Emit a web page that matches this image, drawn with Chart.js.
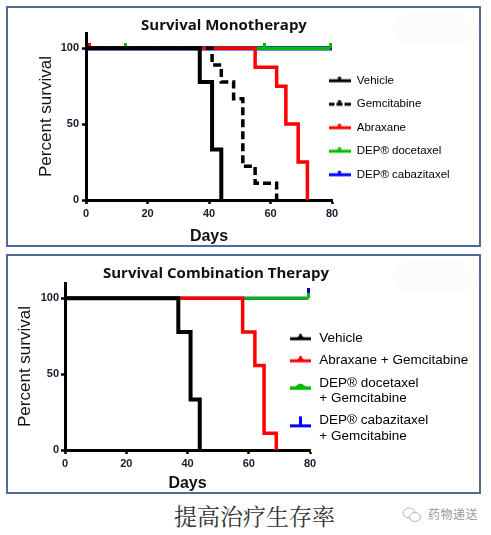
<!DOCTYPE html>
<html>
<head>
<meta charset="utf-8">
<title>Survival</title>
<script src="https://cdn.jsdelivr.net/npm/chart.js@4.4.1/dist/chart.umd.min.js"></script>
<style>
    html, body { margin: 0; padding: 0; background: #fff; }
    body { width: 491px; height: 535px; position: relative; overflow: hidden; }
    .panel { position: absolute; left: 6px; width: 471px; border: 2px solid #4f6a94; background: #fff; }
    #panel1 { top: 6px; height: 237px; }
    #panel2 { top: 254px; height: 236px; }
    .blur { position: absolute; right: 6px; top: 5px; width: 80px; height: 32px; border-radius: 16px; background: #fcfcfc; }
    .panel canvas { display: block; position: relative; }
    #caption { position: absolute; left: 0; top: 499px; width: 509px; text-align: center;
        font-family: "Noto Serif CJK SC", "Noto Sans CJK SC", serif; font-size: 23px; color: #333; }
    #mark { position: absolute; left: 402px; top: 505px; color: #9a9a9a;
        font-family: "Noto Sans CJK SC", sans-serif; font-size: 12px; }
    #mark svg { position: absolute; left: 0; top: 1px; }
    #mark span { position: absolute; left: 26px; top: 0; white-space: nowrap; letter-spacing: 0.5px; }
</style>
</head>
<body>
<div class="panel" id="panel1"><div class="blur"></div><canvas id="monoChart" width="471" height="237"></canvas></div>
<div class="panel" id="panel2"><div class="blur"></div><canvas id="comboChart" width="471" height="236"></canvas></div>
<div id="caption">提高治疗生存率</div>
<div id="mark">
    <svg width="20" height="18" viewBox="0 0 20 18">
        <ellipse cx="7" cy="7" rx="6" ry="5" fill="none" stroke="#b5b5b5" stroke-width="1"/>
        <ellipse cx="13" cy="11" rx="5.5" ry="4.5" fill="#fff" stroke="#b5b5b5" stroke-width="1"/>
    </svg>
    <span>药物递送</span>
</div>

<script>
// ---------------- Datos ----------------

const xTicks = [0, 20, 40, 60, 80];
const yTicks = [0, 50, 100];

// Survival Monotherapy
const monoLabels = ['Vehicle', 'Gemcitabine', 'Abraxane', 'DEP® docetaxel', 'DEP® cabazitaxel'];
const monoVehicleDays = [0, 37, 41, 44];
const monoVehicleSurv = [100, 77.8, 33.3, 0];
const monoGemDays = [0, 41, 44, 48, 51, 55, 62];
const monoGemSurv = [100, 88.9, 77.8, 66.7, 22.2, 11.1, 0];
const monoAbxDays = [0, 1, 55, 62, 65, 69, 72];
const monoAbxSurv = [100, 100, 87.5, 75, 50, 25, 0];
const monoAbxCensor = [1];
const monoDocDays = [0, 13, 58, 79.5];
const monoDocSurv = [100, 100, 100, 100];
const monoDocCensor = [13, 58, 79.5];
const monoCabDays = [0, 80];
const monoCabSurv = [100, 100];

// Survival Combination Therapy
const comboLabels = [
    ['Vehicle'],
    ['Abraxane + Gemcitabine'],
    ['DEP® docetaxel', '+ Gemcitabine'],
    ['DEP® cabazitaxel', '+ Gemcitabine']
];
const comboVehicleDays = [0, 37, 41, 44];
const comboVehicleSurv = [100, 77.8, 33.3, 0];
const comboAbxDays = [0, 58, 62, 65, 69];
const comboAbxSurv = [100, 77.8, 55.6, 11.1, 0];
const comboDocDays = [0, 79.4];
const comboDocSurv = [100, 100];
const comboDocCensor = [79.4];
const comboCabDays = [0, 79.4];
const comboCabSurv = [100, 100];
const comboCabCensor = [79.4];

// ---------------- Marcas (censura y leyenda) ----------------

function censorMark(color, h, w) {
    const c = document.createElement('canvas');
    c.width = w; c.height = h * 2;
    const g = c.getContext('2d');
    g.fillStyle = color;
    g.fillRect(0, 0, w, h);
    return c;
}

// simbolo de la leyenda: linea con una pequeña marca en el centro
function swatch(color, kind, shift) {
    const c = document.createElement('canvas');
    c.width = 22; c.height = 30;
    const g = c.getContext('2d');
    const cy = 15 + (shift || 0);
    g.fillStyle = color;
    if (kind === 'dash') {
        g.fillRect(0, cy - 1.5, 6, 3);
        g.fillRect(8, cy - 1.5, 6, 3);
        g.fillRect(16, cy - 1.5, 6, 3);
        g.fillRect(9.5, cy - 4, 3, 3);
    } else if (kind === 'top') {
        g.fillRect(0, cy - 1.5, 22, 3);
        g.fillRect(9.5, cy - 4, 3, 3);
    } else if (kind === 'tri') {
        g.fillRect(0, cy - 1.5, 21, 3);
        g.beginPath();
        g.moveTo(7, cy - 1); g.lineTo(10.5, cy - 4.5); g.lineTo(14, cy - 1);
        g.fill();
        g.fillRect(9.5, cy - 5, 2, 4);
    } else if (kind === 'bump') {
        g.fillRect(0, cy - 1.5, 21, 3.5);
        g.beginPath();
        g.moveTo(5, cy - 1); g.lineTo(9, cy - 4); g.lineTo(12, cy - 4); g.lineTo(16, cy - 1);
        g.fill();
    } else if (kind === 'tee') {
        g.fillRect(0, cy - 1, 21, 3);
        g.fillRect(9, cy - 9, 3, 9);
    }
    return c;
}

function kmSeries(label, days, surv, censor, color, width, mark, dash) {
    return {
        label,
        data: days.map((d, i) => ({ x: d, y: surv[i] })),
        borderColor: color,
        backgroundColor: color,
        borderWidth: width,
        borderDash: dash || [],
        borderCapStyle: 'butt',
        borderJoinStyle: 'miter',
        stepped: true,
        fill: false,
        tension: 0,
        pointStyle: mark || 'circle',
        pointRadius: ctx => (mark && censor.includes(days[ctx.dataIndex])) ? 3 : 0,
        pointHoverRadius: 0
    };
}

// ---------------- Posicion de leyenda y titulo ----------------

const placeBoxes = {
    id: 'placeBoxes',
    beforeLayout(chart, args, opts) {
        const lg = chart.legend;
        if (lg && !lg._fixedFit) {
            const fit = lg.fit;
            lg.fit = function () { fit.call(this); this.width = opts.legendWidth; };
            lg._fixedFit = true;
        }
    },
    afterLayout(chart, args, opts) {
        const lg = chart.legend;
        const pad = lg.options.labels.padding;
        lg.left = opts.legendX - pad;
        lg.right = chart.width;
        lg.width = lg.right - lg.left;
        lg.top = opts.legendY - pad;
        lg.bottom = chart.height;
        lg.height = lg.bottom - lg.top;
        const t = chart.titleBlock;
        t.left = opts.titleX - 160;
        t.right = opts.titleX + 160;
    }
};

function makeChart(id, cfg) {
    const ctx = document.getElementById(id);
    return new Chart(ctx, {
        type: 'line',
        data: { datasets: cfg.datasets },
        plugins: [placeBoxes],
        options: {
            responsive: false,
            animation: false,
            events: [],
            layout: { padding: 0 },
            font: { family: '"Liberation Sans", Arial, sans-serif' },
            plugins: {
                placeBoxes: cfg.place,
                tooltip: { enabled: false },
                title: {
                    display: true,
                    text: cfg.title,
                    color: '#111',
                    font: { family: '"Open Sans", sans-serif', size: 15, weight: 'bold', lineHeight: 1 },
                    padding: cfg.titlePad
                },
                legend: {
                    position: 'right',
                    align: 'start',
                    labels: {
                        usePointStyle: true,
                        pointStyleWidth: 23,
                        padding: cfg.legendPad,
                        color: '#111',
                        font: { size: cfg.legendFont, lineHeight: cfg.legendLine },
                        generateLabels: chart => chart.data.datasets.map((ds, i) => ({
                            text: cfg.labels[i],
                            pointStyle: cfg.swatches[i],
                            fillStyle: ds.borderColor,
                            strokeStyle: ds.borderColor,
                            lineWidth: 0,
                            hidden: false,
                            datasetIndex: i
                        }))
                    }
                }
            },
            scales: {
                x: {
                    type: 'linear',
                    min: 0,
                    max: 80,
                    afterBuildTicks: s => { s.ticks = xTicks.map(v => ({ value: v })); },
                    afterFit: s => { s.height = cfg.xHeight; },
                    grid: { drawOnChartArea: false, tickLength: 4, tickWidth: 2.5, tickColor: '#000' },
                    border: { color: '#000', width: 3 },
                    ticks: { color: '#1a1a33', padding: 3, maxRotation: 0,
                        font: { size: 11, weight: 'bold' } },
                    title: {
                        display: true, text: 'Days', color: '#111',
                        font: { size: 16, weight: 'bold', lineHeight: 1 },
                        padding: { top: 0, bottom: 0 }
                    }
                },
                y: {
                    type: 'linear',
                    min: 0,
                    max: 110,
                    afterBuildTicks: s => { s.ticks = yTicks.map(v => ({ value: v })); },
                    afterFit: s => { s.width = cfg.yWidth; },
                    grid: { drawOnChartArea: false, tickLength: 4, tickWidth: 2.5, tickColor: '#000' },
                    border: { color: '#000', width: 3 },
                    ticks: { color: '#1a1a33', padding: cfg.yTickPad,
                        font: { size: 11, weight: 'bold' } },
                    title: {
                        display: true, text: 'Percent survival', color: '#111',
                        font: { size: 17, lineHeight: 1 },
                        padding: { top: cfg.yTitlePad, bottom: 0 }
                    }
                }
            }
        }
    });
}

// ---------------- Graficas ----------------

makeChart('monoChart', {
    title: 'Survival Monotherapy',
    titlePad: { top: 10, bottom: 0 },
    labels: monoLabels,
    swatches: [
        swatch('#000', 'top'),
        swatch('#000', 'dash'),
        swatch('#ff0000', 'top'),
        swatch('#00bb00', 'top'),
        swatch('#0000ff', 'top')
    ],
    legendPad: 12,
    legendFont: 11.5,
    legendLine: 1.2,
    xHeight: 45,
    yWidth: 78,
    yTickPad: 3,
    yTitlePad: 30,
    place: { legendWidth: 147, legendX: 320, legendY: 67, titleX: 216 },
    datasets: [
        kmSeries(monoLabels[0], monoVehicleDays, monoVehicleSurv, [], '#000', 4),
        kmSeries(monoLabels[1], monoGemDays, monoGemSurv, [], '#000', 3.5, null, [8, 4]),
        kmSeries(monoLabels[2], monoAbxDays, monoAbxSurv, monoAbxCensor, '#ff0000', 3.5, censorMark('#ff0000', 5, 3)),
        kmSeries(monoLabels[3], monoDocDays, monoDocSurv, monoDocCensor, '#00bb00', 3.5, censorMark('#00bb00', 5, 3)),
        kmSeries(monoLabels[4], monoCabDays, monoCabSurv, [], '#0000ff', 4.5)
    ]
});

makeChart('comboChart', {
    title: 'Survival Combination Therapy',
    titlePad: { top: 10, bottom: 2 },
    labels: comboLabels,
    swatches: [
        swatch('#000', 'tri'),
        swatch('#ff0000', 'tri'),
        swatch('#00bb00', 'bump', 5),
        swatch('#0000ff', 'tee', 5)
    ],
    legendPad: 6.5,
    legendFont: 13.5,
    legendLine: 1.15,
    xHeight: 42,
    yWidth: 57,
    yTickPad: 2,
    yTitlePad: 8.5,
    place: { legendWidth: 169, legendX: 281.5, legendY: 76, titleX: 208 },
    datasets: [
        kmSeries(comboLabels[0][0], comboVehicleDays, comboVehicleSurv, [], '#000', 4),
        kmSeries(comboLabels[1][0], comboAbxDays, comboAbxSurv, [], '#ff0000', 3.5),
        kmSeries(comboLabels[2][0], comboDocDays, comboDocSurv, comboDocCensor, '#00bb00', 3, censorMark('#00bb00', 5, 3)),
        kmSeries(comboLabels[3][0], comboCabDays, comboCabSurv, comboCabCensor, '#0000ff', 3, censorMark('#0000cc', 10, 3))
    ]
});
</script>
</body>
</html>
